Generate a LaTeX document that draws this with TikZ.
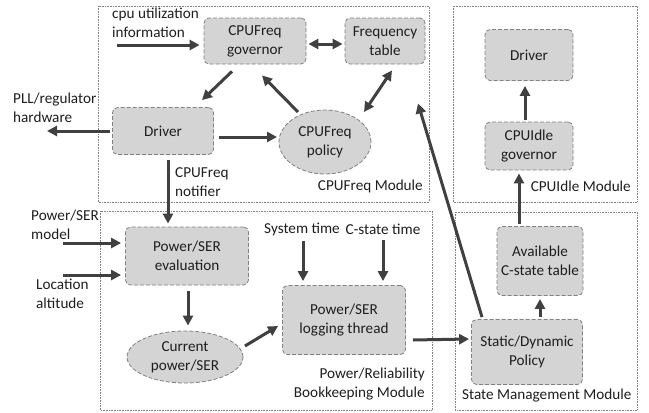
\documentclass[tikz,border=0pt]{standalone}
\usepackage{fontspec}
\setmainfont{Carlito}
\usetikzlibrary{shapes.geometric,arrows.meta}
\definecolor{boxfill}{RGB}{212,212,212}
\definecolor{boxline}{RGB}{128,128,128}
\definecolor{arr}{RGB}{64,64,64}
\definecolor{txt}{RGB}{30,30,30}
\begin{document}
\begin{tikzpicture}[x=1pt,y=-1pt,
  font=\fontsize{15.2}{19}\selectfont,
  blk/.style={draw=boxline,dashed,dash pattern=on 4pt off 2pt,line width=0.8pt,fill=boxfill,rounded corners=5pt,align=center,inner sep=0pt,text=txt},
  ell/.style={ellipse,draw=boxline,dashed,dash pattern=on 4pt off 2pt,line width=0.8pt,fill=boxfill,align=center,inner sep=0pt,text=txt},
  modbox/.style={draw=boxline,densely dotted,line width=0.6pt},
  lbl/.style={align=left,inner sep=0pt,text=txt},
  arrw/.style={draw=arr,line width=3pt,-{Triangle[length=10pt,width=10pt]}},
  darrw/.style={draw=arr,line width=3pt,{Triangle[length=10pt,width=10pt]}-{Triangle[length=10pt,width=10pt]}}]
\useasboundingbox (0,0) rectangle (649,413);
% modules
\draw[modbox] (98,6) rectangle (429,202);
\draw[modbox] (100,211) rectangle (432,410);
\draw[modbox] (453,6) rectangle (637,202);
\draw[modbox] (455,212) rectangle (637,410);
% nodes
\node[blk,minimum width=102pt,minimum height=46pt] (gov) at (255,41) {CPUFreq\\governor};
\node[blk,minimum width=80pt,minimum height=46pt] (ftab) at (385,41) {Frequency\\table};
\node[blk,minimum width=101pt,minimum height=47pt] (drv) at (163,131) {Driver};
\node[ell,minimum width=92pt,minimum height=64pt] (pol) at (325,142) {CPUFreq\\policy};
\node[blk,minimum width=123pt,minimum height=58pt] (eval) at (187,256) {Power/SER\\evaluation};
\node[ell,minimum width=116pt,minimum height=52pt] (cur) at (185,357) {Current\\power/SER};
\node[blk,minimum width=123pt,minimum height=69pt] (log) at (344,320) {Power/SER\\logging thread};
\node[blk,minimum width=111pt,minimum height=65pt] (sdp) at (527,352) {Static/Dynamic\\Policy};
\node[blk,minimum width=86pt,minimum height=69pt] (avail) at (540,261) {Available\\C-state table};
\node[blk,minimum width=88pt,minimum height=48pt] (igov) at (529,146) {CPUIdle\\governor};
\node[blk,minimum width=88pt,minimum height=51pt] (idrv) at (529,55) {Driver};
% labels
\node[lbl,anchor=west] (cpuinfo) at (112,23) {cpu utilization\\information};
\node[lbl,anchor=west] (pll) at (13,108) {PLL/regulator\\hardware};
\node[lbl,anchor=west] (notif) at (175,182) {CPUFreq\\notifier};
\node[lbl,anchor=east] (mf) at (423,186) {CPUFreq Module};
\node[lbl,anchor=west] (model) at (31,225) {Power/SER\\model};
\node[lbl,anchor=west] (loc) at (36,294) {Location\\altitude};
\node[lbl] (syst) at (302,229) {System time};
\node[lbl] (cst) at (383,229) {C-state time};
\node[lbl,anchor=east,align=right] (mb) at (425,384) {Power/Reliability\\Bookkeeping Module};
\node[lbl,anchor=east] (mi) at (631,186) {CPUIdle Module};
\node[lbl,anchor=west] (ms) at (462,396) {State Management Module};
% free ends
\coordinate (infoend) at (117,45);
\coordinate (pllend) at (47,131);
\coordinate (modelend) at (63,243);
\coordinate (locend) at (63,275);
% connectors
\draw[arrw] (infoend) -- ([shift={(-4,4)}]gov.west);
\draw[arrw] ([shift={(-2,0)}]drv.west) -- (pllend);
\draw[arrw] ([shift={(-23,7)}]gov.south) -- ([shift={(39,-7)}]drv.north);
\draw[arrw] ([shift={(-27,-30)}]pol.center) -- ([shift={(7,11)}]gov.south);
\draw[darrw] ([shift={(2,3)}]gov.east) -- ([shift={(-2,3)}]ftab.west);
\draw[darrw] ([shift={(7,6)}]ftab.south) -- ([shift={(39,-30)}]pol.center);
\draw[arrw] ([shift={(5,6)}]drv.east) -- ([shift={(-48,-5)}]pol.center);
\draw[arrw] ([shift={(5,5)}]drv.south) -- ([shift={(-19,-3)}]eval.north);
\draw[arrw] (modelend) -- ([shift={(-4,-13)}]eval.west);
\draw[arrw] (locend) -- ([shift={(-4,19)}]eval.west);
\draw[arrw] ([shift={(1,6)}]eval.south) -- ([shift={(3,-5)}]cur.north);
\draw[arrw] ([shift={(1,5)}]syst.south) -- ([shift={(-41,-4)}]log.north);
\draw[arrw] ([shift={(0,5)}]cst.south) -- ([shift={(39,-4)}]log.north);
\draw[arrw] ([shift={(60,-11)}]cur.center) -- ([shift={(-4,6)}]log.west);
\draw[arrw] ([shift={(7,20)}]log.east) -- ([shift={(-2,-13)}]sdp.west);
\draw[arrw] ([shift={(-45,-2)}]sdp.north) -- ([shift={(33,39)}]ftab.south);
\draw[arrw] ([shift={(13,-2)}]sdp.north) -- ([shift={(0,3)}]avail.south);
\draw[arrw] ([shift={(-21,-2)}]avail.north) -- ([shift={(-10,3)}]igov.south);
\draw[arrw] ([shift={(-4,-2)}]igov.north) -- ([shift={(-4,5)}]idrv.south);
\end{tikzpicture}
\end{document}
